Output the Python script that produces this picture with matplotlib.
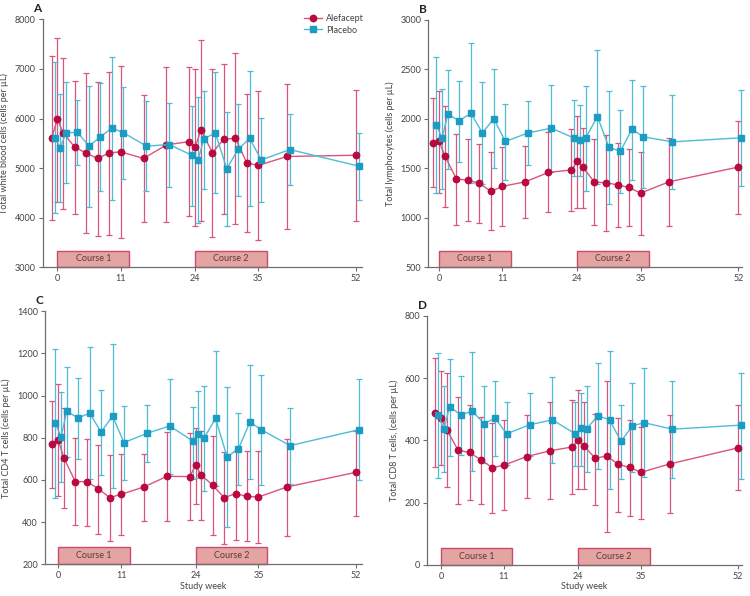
import matplotlib.pyplot as plt
from matplotlib.patches import Rectangle
import matplotlib.transforms as mtransforms

plt.rcParams['font.family'] = ['Lato', 'DejaVu Sans']

# study weeks (alefacept); placebo is drawn slightly to the right
weeks = [-1, 0, 1, 3, 5, 7, 9, 11, 15, 19, 23, 24, 25, 27, 29, 31, 33, 35, 40, 52]
placebo_shift = 0.5

# A - total white blood cells
wbc_alef = [5610, 5985, 5715, 5425, 5305, 5195, 5305, 5330, 5195, 5470, 5535, 5425,
            5765, 5315, 5585, 5600, 5105, 5055, 5235, 5260]
wbc_alef_hi = [7265, 7615, 7220, 6755, 6910, 6745, 6935, 7055, 6465, 7030, 7030, 7005,
               7585, 7005, 7110, 7315, 6495, 6555, 6690, 6575]
wbc_alef_lo = [3955, 4325, 4185, 4075, 3695, 3640, 3655, 3595, 3910, 3910, 4035, 3830,
               3940, 3605, 4065, 3880, 3705, 3550, 3765, 3935]
wbc_plac = [5615, 5415, 5715, 5720, 5445, 5630, 5810, 5715, 5445, 5475, 5255, 5165,
            5585, 5715, 4990, 5380, 5600, 5165, 5375, 5040]
wbc_plac_hi = [7150, 6495, 6735, 6370, 6660, 6720, 7240, 6645, 6345, 6310, 6255, 6430,
               6560, 6935, 6135, 6285, 6955, 6005, 6090, 5710]
wbc_plac_lo = [4095, 4325, 4695, 5065, 4225, 4540, 4360, 4785, 4530, 4615, 4245, 3895,
               4580, 4505, 3840, 4445, 4245, 4310, 4660, 4360]

# B - total lymphocytes
lym_alef = [1758, 1772, 1624, 1392, 1381, 1348, 1267, 1318, 1365, 1459, 1484, 1570,
            1509, 1361, 1354, 1334, 1307, 1250, 1365, 1513]
lym_alef_hi = [2209, 2287, 2135, 1849, 1795, 1745, 1661, 1711, 1728, 1863, 1896, 2034,
               1913, 1795, 1842, 1755, 1691, 1667, 1805, 1974]
lym_alef_lo = [1307, 1253, 1106, 927, 971, 944, 873, 914, 1001, 1055, 1065, 1102,
               1102, 930, 863, 904, 920, 830, 917, 1042]
lym_plac = [1943, 1805, 2048, 1980, 2058, 1859, 2001, 1772, 1859, 1906, 1805, 1782,
            1809, 2024, 1715, 1671, 1896, 1819, 1768, 1809]
lym_plac_hi = [2623, 2307, 2492, 2388, 2764, 2377, 2502, 2155, 2179, 2344, 2186, 2145,
               2334, 2697, 2287, 2085, 2398, 2334, 2243, 2293]
lym_plac_lo = [1253, 1291, 1492, 1563, 1351, 1344, 1499, 1381, 1533, 1459, 1418, 1418,
               1270, 1341, 1136, 1250, 1385, 1297, 1291, 1324]

# C - total CD4 T cells
cd4_alef = [772, 791, 704, 592, 592, 559, 516, 532, 567, 617, 616, 669,
            624, 575, 516, 535, 522, 519, 567, 636]
cd4_alef_hi = [976, 1055, 939, 797, 794, 766, 717, 725, 723, 826, 821, 848,
               834, 809, 733, 736, 738, 736, 794, 832]
cd4_alef_lo = [564, 526, 467, 384, 380, 346, 311, 339, 403, 406, 409, 486,
               409, 339, 295, 317, 309, 303, 336, 431]
cd4_plac = [868, 805, 925, 894, 917, 827, 903, 777, 821, 856, 785, 816,
            799, 892, 710, 747, 875, 838, 763, 838]
cd4_plac_hi = [1221, 1018, 1137, 1083, 1230, 1025, 1243, 952, 954, 1080, 946, 1023,
               1048, 1211, 1040, 916, 1143, 1099, 941, 1077]
cd4_plac_lo = [516, 590, 711, 701, 605, 625, 560, 598, 687, 627, 605, 608,
               549, 573, 379, 576, 606, 576, 583, 598]

# D - total CD8 T cells
cd8_alef = [489, 471, 434, 368, 361, 337, 312, 320, 348, 366, 379, 402,
            383, 342, 350, 323, 313, 297, 324, 376]
cd8_alef_hi = [664, 622, 618, 540, 513, 474, 457, 464, 482, 522, 530, 561,
               523, 486, 592, 471, 465, 442, 482, 513]
cd8_alef_lo = [313, 321, 251, 195, 207, 196, 166, 175, 214, 210, 226, 242,
               242, 193, 104, 171, 158, 147, 165, 240]
cd8_plac = [483, 435, 508, 482, 494, 454, 471, 421, 450, 466, 421, 439,
            438, 479, 466, 397, 446, 457, 436, 449]
cd8_plac_hi = [682, 574, 662, 608, 683, 576, 592, 524, 552, 604, 523, 552,
               576, 648, 686, 515, 584, 632, 591, 618]
cd8_plac_lo = [279, 297, 351, 353, 302, 326, 349, 321, 349, 326, 318, 319,
               298, 308, 244, 276, 298, 281, 278, 276]

xticks = [0, 11, 24, 35, 52]
courses = [("Course 1", 0, 12.5), ("Course 2", 24, 36.5)]

ALEF_LINE = '#d9557c'
ALEF_MARK = '#b80a3e'
PLAC_LINE = '#4fbcd6'
PLAC_MARK = '#1b9cc2'
AXIS_GREY = '#6f6f6f'

panels = [
    dict(tag='A', pos=[0.057, 0.5515, 0.426, 0.416], xlim=(-2.55, 53.1), ylim=(3000, 8000),
         ystep=1000, ylabel='Total white blood cells (cells per µL)',
         alef=(wbc_alef, wbc_alef_lo, wbc_alef_hi), plac=(wbc_plac, wbc_plac_lo, wbc_plac_hi),
         xlabel=None),
    dict(tag='B', pos=[0.571, 0.5515, 0.418, 0.415], xlim=(-1.9, 52.6), ylim=(500, 3000),
         ystep=500, ylabel='Total lymphocytes (cells per µL)',
         alef=(lym_alef, lym_alef_lo, lym_alef_hi), plac=(lym_plac, lym_plac_lo, lym_plac_hi),
         xlabel=None),
    dict(tag='C', pos=[0.060, 0.0532, 0.422, 0.4245], xlim=(-2.3, 53.0), ylim=(200, 1400),
         ystep=200, ylabel='Total CD4 T cells (cells per µL)',
         alef=(cd4_alef, cd4_alef_lo, cd4_alef_hi), plac=(cd4_plac, cd4_plac_lo, cd4_plac_hi),
         xlabel='Study week'),
    dict(tag='D', pos=[0.5697, 0.0525, 0.419, 0.4173], xlim=(-2.4, 52.6), ylim=(0, 800),
         ystep=200, ylabel='Total CD8 T cells, (cells per µL)',
         alef=(cd8_alef, cd8_alef_lo, cd8_alef_hi), plac=(cd8_plac, cd8_plac_lo, cd8_plac_hi),
         xlabel='Study week'),
]

fig = plt.figure(figsize=(7.5, 5.96), dpi=100)

for p in panels:
    ax = fig.add_axes(p['pos'])
    lo_y, hi_y = p['ylim']

    # treatment courses
    trans = mtransforms.blended_transform_factory(ax.transData, ax.transAxes)
    for name, start, end in courses:
        ax.add_patch(Rectangle((start, 0.0), end - start, 0.067, transform=trans,
                               facecolor='#e3a4a2', edgecolor='#cf4a6a', lw=1.0,
                               clip_on=False, zorder=1))
        ax.text((start + end) / 2, 0.034, name, transform=trans, ha='center', va='center',
                fontsize=6.5, color='#5a3a3a', zorder=2)

    series = [
        (weeks, p['alef'], ALEF_LINE, ALEF_MARK, 'o', 'Alefacept'),
        ([w + placebo_shift for w in weeks], p['plac'], PLAC_LINE, PLAC_MARK, 's', 'Placebo'),
    ]
    for xs, (mean, lo, hi), lc, mc, mk, lab in series:
        yerr = [[m - l for m, l in zip(mean, lo)], [h - m for m, h in zip(mean, hi)]]
        eb = ax.errorbar(xs, mean, yerr=yerr, fmt='none', ecolor=lc, elinewidth=0.9,
                         capsize=2.2, capthick=0.9, zorder=3)
        for art in eb.lines[1] + eb.lines[2]:
            art.set_clip_on(False)
        ax.plot(xs, mean, color=lc, lw=1.0, marker=mk, markersize=4.6,
                markerfacecolor=mc, markeredgecolor=mc, label=lab, zorder=4,
                clip_on=False)

    ax.set_xlim(*p['xlim'])
    ax.set_ylim(lo_y, hi_y)
    ax.set_xticks(xticks)
    ax.set_yticks(range(lo_y, hi_y + 1, p['ystep']))
    for s in ['top', 'right']:
        ax.spines[s].set_visible(False)
    for s in ['left', 'bottom']:
        ax.spines[s].set_color(AXIS_GREY)
        ax.spines[s].set_linewidth(0.9)
    ax.tick_params(colors=AXIS_GREY, labelcolor='#444444', labelsize=6.5,
                   length=3, width=0.8, pad=2)
    ax.set_ylabel(p['ylabel'], fontsize=6.5, color='#444444', labelpad=4)
    if p['xlabel']:
        ax.set_xlabel(p['xlabel'], fontsize=6.5, color='#444444', labelpad=1)

    ax.text(-0.03, 1.02, p['tag'], transform=ax.transAxes, fontsize=8.5,
            fontweight='bold', color='#222222', ha='left', va='bottom')

    if p['tag'] == 'A':
        ax.legend(loc='upper right', bbox_to_anchor=(1.03, 1.055), frameon=False,
                  fontsize=6.5, handlelength=2.0, handletextpad=0.4,
                  labelspacing=0.3, labelcolor='#444444')

fig.savefig('out.png', dpi=100)
